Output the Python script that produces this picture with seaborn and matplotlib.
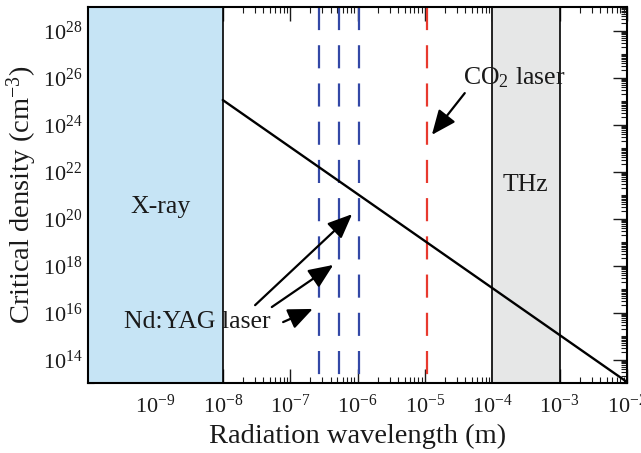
import numpy as np
import pandas as pd
import matplotlib
matplotlib.use("Agg")
import matplotlib.pyplot as plt
import seaborn as sns
from matplotlib.ticker import FixedLocator, LogLocator, NullFormatter, LogFormatterSciNotation

# Critical plasma density versus radiation wavelength
wavelength_m = [1e-8, 1e-2]
critical_density = [1.1e25, 1.1e13]

# Spectral bands and laser lines
xray_band = [1e-10, 1e-8]
thz_band = [1e-4, 1e-3]
ndyag_wavelengths = [266e-9, 532e-9, 1064e-9]
co2_wavelengths = [10.6e-6]

x_ticks = [1e-9, 1e-8, 1e-7, 1e-6, 1e-5, 1e-4, 1e-3, 1e-2]
y_ticks = [1e14, 1e16, 1e18, 1e20, 1e22, 1e24, 1e26, 1e28]
x_limits = [1e-10, 1e-2]
y_limits = [1e13, 1e29]

sns.set_theme(style="ticks")
plt.rcParams.update({
    "font.family": ["Liberation Serif", "DejaVu Serif"],
    "mathtext.fontset": "custom",
    "mathtext.rm": "Liberation Serif",
    "mathtext.it": "Liberation Serif:italic",
    "mathtext.bf": "Liberation Serif:bold",
    "text.color": "#1a1a1a",
    "axes.labelcolor": "#1a1a1a",
    "xtick.color": "#1a1a1a",
    "ytick.color": "#1a1a1a",
})

fig = plt.figure(figsize=(6.41, 4.53), dpi=100)
ax = fig.add_axes([88 / 641, 70 / 453, 539 / 641, 376 / 453])
ax.set(xscale="log", yscale="log")

df = pd.DataFrame({"wavelength": wavelength_m, "density": critical_density})
sns.lineplot(data=df, x="wavelength", y="density", ax=ax, color="black",
             linewidth=1.7, zorder=6)

ax.axvspan(*xray_band, facecolor="#c6e4f5", edgecolor="black", linewidth=1.2, zorder=3)
ax.axvspan(*thz_band, facecolor="#e6e7e7", edgecolor="black", linewidth=1.2, zorder=3)

for wl in ndyag_wavelengths:
    ax.axvline(wl, ymin=1, ymax=0, color="#3348a6", linewidth=1.6,
               dashes=(10.4, 6.8), zorder=4)
for wl in co2_wavelengths:
    ax.axvline(wl, ymin=1, ymax=0, color="#e8392e", linewidth=1.6,
               dashes=(10.4, 6.8), zorder=4)

ax.set_xlim(*x_limits)
ax.set_ylim(*y_limits)

ax.xaxis.set_major_locator(FixedLocator(x_ticks))
ax.xaxis.set_major_formatter(LogFormatterSciNotation())
ax.xaxis.set_minor_locator(LogLocator(base=10, subs=np.arange(2, 10), numticks=50))
ax.xaxis.set_minor_formatter(NullFormatter())
ax.yaxis.set_major_locator(FixedLocator(y_ticks))
ax.yaxis.set_major_formatter(LogFormatterSciNotation())
ax.yaxis.set_minor_locator(LogLocator(base=10, subs=np.arange(1, 10), numticks=50))
ax.yaxis.set_minor_formatter(NullFormatter())

ax.tick_params(which="both", direction="in", top=True, right=True)
ax.tick_params(which="major", length=10, width=1.0, labelsize=16)
ax.tick_params(axis="x", which="major", pad=8)
ax.tick_params(axis="y", which="major", pad=4)
ax.tick_params(which="minor", length=4.5, width=0.8)

for sp in ax.spines.values():
    sp.set_linewidth(1.5)
    sp.set_color("black")
    sp.set_zorder(10)

ax.set_xlabel("Radiation wavelength (m)", fontsize=20.5, labelpad=5)
ax.set_ylabel("Critical density (cm$^{-3}$)", fontsize=20.5, labelpad=3)

text_kw = dict(transform=ax.transAxes, ha="center", va="center", fontsize=18.5, zorder=8)
ax.text(0.134, 0.468, "X-ray", **text_kw)
ax.text(0.811, 0.527, "THz", **text_kw)
ax.text(0.790, 0.811, "CO$_2$ laser", **text_kw)
ax.text(0.202, 0.162, "Nd:YAG laser", **text_kw)

arrow_kw = dict(arrowstyle="-|>,head_length=0.75,head_width=0.32", color="black",
                linewidth=1.6, mutation_scale=20, shrinkA=0, shrinkB=0)
arrows = [
    ((0.699, 0.771), (0.638, 0.660)),
    ((0.310, 0.207), (0.490, 0.449)),
    ((0.341, 0.202), (0.455, 0.314)),
    ((0.362, 0.162), (0.417, 0.197)),
]
for tail, head in arrows:
    ax.annotate("", xy=head, xytext=tail, xycoords="axes fraction",
                textcoords="axes fraction", arrowprops=arrow_kw, zorder=8)

fig.savefig("out.png", dpi=100)
